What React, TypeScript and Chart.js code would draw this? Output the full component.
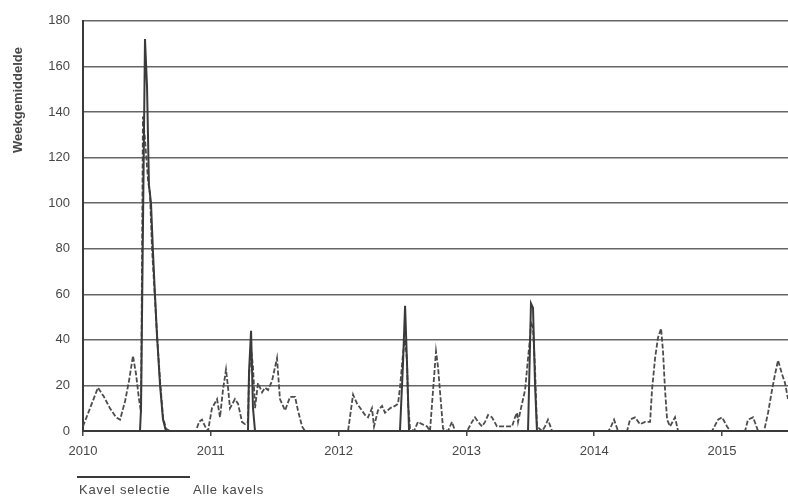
import { useEffect, useRef } from 'react';
import Chart from 'chart.js/auto';

// weekly averages, x = decimal year
const alleKavelsX = [
  2010.0, 2010.055, 2010.117, 2010.164, 2010.211, 2010.258, 2010.29, 2010.329, 2010.36, 2010.391,
  2010.415, 2010.438, 2010.454, 2010.469, 2010.485, 2010.509, 2010.524, 2010.54, 2010.563, 2010.579,
  2010.603, 2010.626, 2010.649, 2010.681, 2010.884, 2010.908, 2010.931, 2010.955, 2010.978,
  2011.009, 2011.049, 2011.072, 2011.095, 2011.119, 2011.135, 2011.15, 2011.189, 2011.213, 2011.244,
  2011.268, 2011.291, 2011.299, 2011.315, 2011.33, 2011.346, 2011.369, 2011.401, 2011.424, 2011.448,
  2011.479, 2011.518, 2011.541, 2011.581, 2011.62, 2011.659, 2011.682, 2011.714, 2011.737,
  2012.074, 2012.113, 2012.144, 2012.183, 2012.207, 2012.23, 2012.261, 2012.277, 2012.308, 2012.34,
  2012.363, 2012.402, 2012.441, 2012.465, 2012.48, 2012.504, 2012.52, 2012.535, 2012.543, 2012.559,
  2012.59, 2012.621, 2012.653, 2012.692, 2012.715, 2012.739, 2012.762, 2012.778, 2012.801, 2012.817,
  2012.856, 2012.887, 2012.911, 2013.005, 2013.044, 2013.067, 2013.091, 2013.122, 2013.146, 2013.169,
  2013.2, 2013.239, 2013.357, 2013.38, 2013.396, 2013.404, 2013.419, 2013.459, 2013.482, 2013.498,
  2013.505, 2013.521, 2013.537, 2013.552, 2013.592, 2013.615, 2013.638, 2013.67,
  2014.108, 2014.124, 2014.155, 2014.186, 2014.257, 2014.28, 2014.319, 2014.358, 2014.398, 2014.437,
  2014.452, 2014.476, 2014.499, 2014.523, 2014.538, 2014.554, 2014.57, 2014.593, 2014.632, 2014.656,
  2014.922, 2014.969, 2015.0, 2015.039, 2015.063, 2015.18, 2015.203, 2015.243, 2015.282, 2015.329,
  2015.36, 2015.391, 2015.415, 2015.438, 2015.469, 2015.493, 2015.516, 2015.548
];
const alleKavelsY = [
  2, 10, 19, 15, 10, 6, 5, 13, 22, 33,
  25, 14, 8, 138, 128, 110, 104, 80, 58, 42,
  22, 6, 1, 0, 0, 4, 5, 2, 0,
  10, 14, 6, 18, 27, 19, 10, 14, 12, 4,
  3, 4, 24, 36, 28, 10, 21, 17, 19, 18,
  22, 32, 14, 9, 15, 15, 9, 2, 0,
  0, 16, 12, 9, 7, 6, 10, 2, 9, 11,
  8, 10, 11, 12, 19, 34, 40, 31, 12, 1,
  0, 4, 3, 2, 0, 18, 35, 28, 12, 1,
  0, 4, 0, 0, 4, 6, 4, 2, 4, 7,
  6, 2, 2, 6, 8, 4, 8, 18, 32, 41,
  48, 45, 27, 2, 0, 2, 5, 0,
  0, 1, 5, 0, 0, 5, 6, 3, 4, 4,
  18, 32, 41, 45, 35, 18, 5, 2, 6, 0,
  0, 5, 6, 2, 0, 0, 5, 6, 0, 0,
  8, 18, 25, 31, 25, 21, 14, 6
];

const kavelSelectieX = [
  2010.0, 2010.446, 2010.454, 2010.485, 2010.501, 2010.516, 2010.532, 2010.548, 2010.563, 2010.579,
  2010.603, 2010.626, 2010.649, 2011.291, 2011.299, 2011.315, 2011.33, 2011.346,
  2012.48, 2012.504, 2012.52, 2012.535, 2012.551, 2013.482, 2013.505, 2013.521, 2013.537, 2013.552,
  2015.516
];
const kavelSelectieY = [
  0, 0, 10, 172, 151, 108, 100, 78, 60, 42,
  20, 5, 0, 0, 26, 44, 10, 0,
  0, 30, 55, 30, 0, 0, 56, 54, 20, 0,
  0
];

const yearTicks = [2010, 2011, 2012, 2013, 2014, 2015];
const xMin = 2010;
const xMax = 2015.516;
const yMax = 180;
const yStep = 20;

const INK = '#474747';
const FONT = '"Liberation Sans", Arial, sans-serif';

const toPoints = (xs: number[], ys: number[]) => xs.map((x, i) => ({ x, y: ys[i] }));

const yTitlePlugin = {
  id: 'yTitle',
  afterDraw(chart: Chart) {
    const { ctx } = chart;
    ctx.save();
    ctx.translate(18, 100);
    ctx.rotate(-Math.PI / 2);
    ctx.fillStyle = INK;
    ctx.font = `bold 13px ${FONT}`;
    ctx.textAlign = 'center';
    ctx.textBaseline = 'middle';
    ctx.fillText('Weekgemiddelde', 0, 0);
    ctx.restore();
  }
};

export default function App() {
  const canvasRef = useRef<HTMLCanvasElement | null>(null);

  useEffect(() => {
    const canvas = canvasRef.current;
    if (!canvas) return;

    const chart = new Chart(canvas, {
      type: 'line',
      data: {
        datasets: [
          {
            label: 'Kavel selectie',
            data: toPoints(kavelSelectieX, kavelSelectieY),
            borderColor: '#3a3a3a',
            borderWidth: 2,
            pointRadius: 0,
            tension: 0,
            order: 0
          },
          {
            label: 'Alle kavels',
            data: toPoints(alleKavelsX, alleKavelsY),
            borderColor: '#4c4c4c',
            borderWidth: 1.8,
            borderDash: [5, 2],
            pointRadius: 0,
            tension: 0,
            order: 1
          }
        ]
      },
      options: {
        animation: false,
        responsive: false,
        maintainAspectRatio: false,
        layout: { padding: { top: 20, right: 0, bottom: 0, left: 0 } },
        plugins: { legend: { display: false }, tooltip: { enabled: false } },
        scales: {
          x: {
            type: 'linear',
            min: xMin,
            max: xMax,
            afterFit: scale => { scale.height = 66; },
            afterBuildTicks: scale => { scale.ticks = yearTicks.map(v => ({ value: v })); },
            ticks: {
              color: INK,
              font: { family: FONT, size: 13 },
              padding: 8,
              maxRotation: 0,
              autoSkip: false,
              callback: v => String(v)
            },
            grid: { drawOnChartArea: false, drawTicks: true, tickLength: 5, color: INK, lineWidth: 1.5 },
            border: { display: true, color: '#3a3a3a', width: 2 }
          },
          y: {
            min: 0,
            max: yMax,
            afterFit: scale => { scale.width = 83; },
            ticks: {
              stepSize: yStep,
              color: INK,
              font: { family: FONT, size: 13 },
              padding: 13
            },
            grid: { color: '#666666', lineWidth: 1.5, drawTicks: false },
            border: { display: true, color: '#3a3a3a', width: 2 }
          }
        }
      },
      plugins: [yTitlePlugin]
    });

    return () => chart.destroy();
  }, []);

  const legendText = { position: 'absolute' as const, top: 482, fontSize: 13, letterSpacing: 0.8, color: INK, whiteSpace: 'nowrap' as const };

  return (
    <div style={{ position: 'absolute', left: 0, top: 0, width: 788, height: 497, background: '#fff', fontFamily: FONT }}>
      <canvas ref={canvasRef} width={788} height={497} />
      <div style={{ position: 'absolute', left: 77, top: 476, width: 113, height: 2, background: '#3a3a3a' }} />
      <div style={{ ...legendText, left: 79 }}>Kavel selectie</div>
      <div style={{ ...legendText, left: 193 }}>Alle kavels</div>
    </div>
  );
}
